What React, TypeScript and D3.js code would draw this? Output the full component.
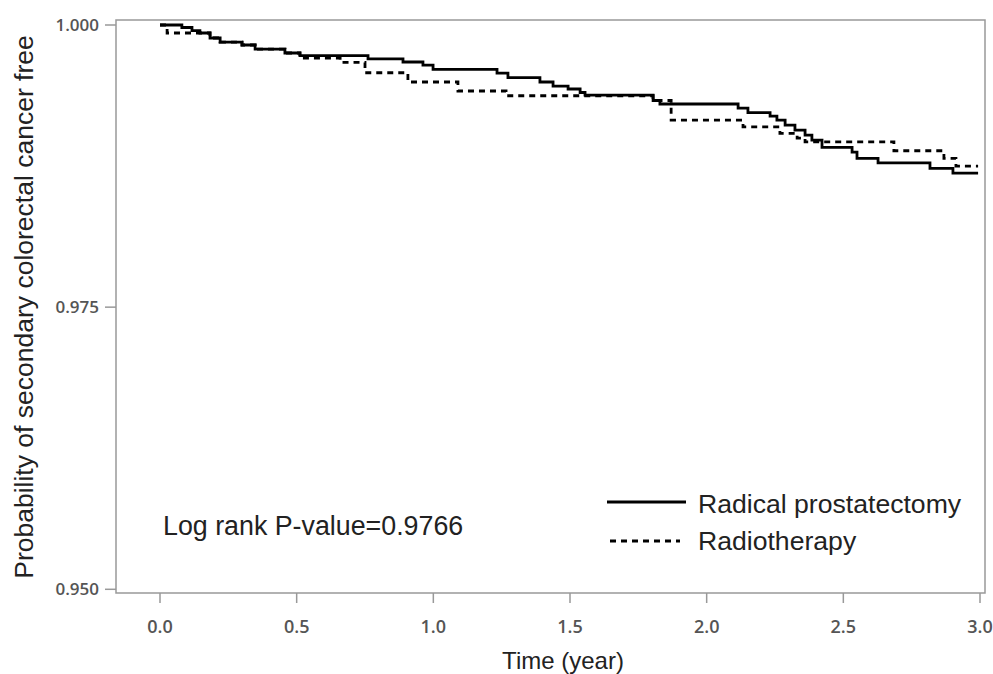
import React from "react";
import * as d3 from "d3";

// Radical prostatectomy (solid) — Kaplan–Meier steps
const rpTime = [0, 0.08, 0.117, 0.146, 0.183, 0.22, 0.3, 0.348, 0.457, 0.512, 0.761, 0.889, 0.962, 0.999, 1.233, 1.273, 1.39, 1.438, 1.493, 1.537, 1.555, 1.804, 1.829, 2.115, 2.151, 2.232, 2.257, 2.287, 2.323, 2.36, 2.385, 2.422, 2.532, 2.55, 2.627, 2.817, 2.901, 2.993];
const rpSurv = [1.0, 0.99978, 0.99951, 0.99929, 0.99885, 0.99849, 0.99823, 0.99787, 0.99752, 0.99728, 0.99699, 0.99672, 0.99645, 0.99607, 0.99574, 0.99533, 0.99495, 0.99459, 0.99433, 0.99402, 0.99379, 0.99331, 0.993, 0.99264, 0.99224, 0.99193, 0.99158, 0.99113, 0.99069, 0.99025, 0.9898, 0.98916, 0.98874, 0.98818, 0.98779, 0.9873, 0.98688, 0.98688];

// Radiotherapy (dashed)
const rtTime = [0, 0.026, 0.183, 0.22, 0.3, 0.348, 0.457, 0.512, 0.659, 0.75, 0.907, 1.09, 1.266, 1.804, 1.87, 2.133, 2.268, 2.331, 2.36, 2.685, 2.868, 2.912, 2.993];
const rtSurv = [1.0, 0.99929, 0.99885, 0.99849, 0.99823, 0.99787, 0.99752, 0.99707, 0.99668, 0.99577, 0.99495, 0.99415, 0.99373, 0.99331, 0.99158, 0.99098, 0.9904, 0.98998, 0.98965, 0.98886, 0.98818, 0.9875, 0.9875];

const xTicks = [0, 0.5, 1.0, 1.5, 2.0, 2.5, 3.0];
const yTicks = [0.95, 0.975, 1.0];
const seriesNames = ["Radical prostatectomy", "Radiotherapy"];
const pValueText = "Log rank P-value=0.9766";

export default function App() {
  const W = 993, H = 674;
  const frame = { left: 116, right: 985, top: 20, bottom: 593 };
  const x = d3.scaleLinear().domain([0, 3]).range([160, 980]);
  const y = d3.scaleLinear().domain([0.95, 1.0]).range([589.3, 25]);

  const line = d3
    .line<[number, number]>()
    .x((d) => x(d[0]))
    .y((d) => y(d[1]))
    .curve(d3.curveStepAfter);

  const rp = rpTime.map((t, i) => [t, rpSurv[i]] as [number, number]);
  const rt = rtTime.map((t, i) => [t, rtSurv[i]] as [number, number]);

  const tickFont = "'Open Sans', sans-serif";
  const textFont = "'Liberation Sans', Arial, sans-serif";
  const axisColor = "#999";

  return (
    <svg
      width={W}
      height={H}
      style={{ position: "absolute", left: 0, top: 0, display: "block", background: "#fff" }}
    >
      <rect
        x={frame.left}
        y={frame.top}
        width={frame.right - frame.left}
        height={frame.bottom - frame.top}
        fill="none"
        stroke={axisColor}
        strokeWidth={1.5}
      />
      {xTicks.map((t) => (
        <g key={"x" + t}>
          <line x1={x(t)} x2={x(t)} y1={frame.bottom} y2={frame.bottom + 10} stroke={axisColor} strokeWidth={1.5} />
          <text
            x={x(t)}
            y={633}
            textAnchor="middle"
            fontFamily={tickFont}
            fontSize={18}
            fontWeight={600}
            fill="#555"
          >
            {t.toFixed(1)}
          </text>
        </g>
      ))}
      {yTicks.map((v) => (
        <g key={"y" + v}>
          <line x1={frame.left - 11} x2={frame.left} y1={y(v)} y2={y(v)} stroke={axisColor} strokeWidth={1.5} />
          <text
            x={99}
            y={y(v)}
            dy="0.35em"
            textAnchor="end"
            fontFamily={tickFont}
            fontSize={17}
            fontWeight={600}
            fill="#555"
          >
            {v.toFixed(3)}
          </text>
        </g>
      ))}
      <path d={line(rp) || ""} fill="none" stroke="#000" strokeWidth={2.8} />
      <path d={line(rt) || ""} fill="none" stroke="#000" strokeWidth={2.8} strokeDasharray="6,5" />

      <text x={563} y={669} textAnchor="middle" fontFamily={textFont} fontSize={24} fill="#222">
        Time (year)
      </text>
      <text
        transform={`translate(33,307) rotate(-90)`}
        textAnchor="middle"
        fontFamily={textFont}
        fontSize={26.5}
        fill="#222"
      >
        Probability of secondary colorectal cancer free
      </text>
      <text x={163} y={535} fontFamily={textFont} fontSize={26.8} fill="#222">
        {pValueText}
      </text>

      <line x1={607} x2={686} y1={502} y2={502} stroke="#000" strokeWidth={2.8} />
      <text x={698} y={513} fontFamily={textFont} fontSize={26.6} fill="#222">
        {seriesNames[0]}
      </text>
      <line x1={610} x2={680} y1={541} y2={541} stroke="#000" strokeWidth={2.8} strokeDasharray="6,5" />
      <text x={698} y={550} fontFamily={textFont} fontSize={26.6} fill="#222">
        {seriesNames[1]}
      </text>
    </svg>
  );
}
